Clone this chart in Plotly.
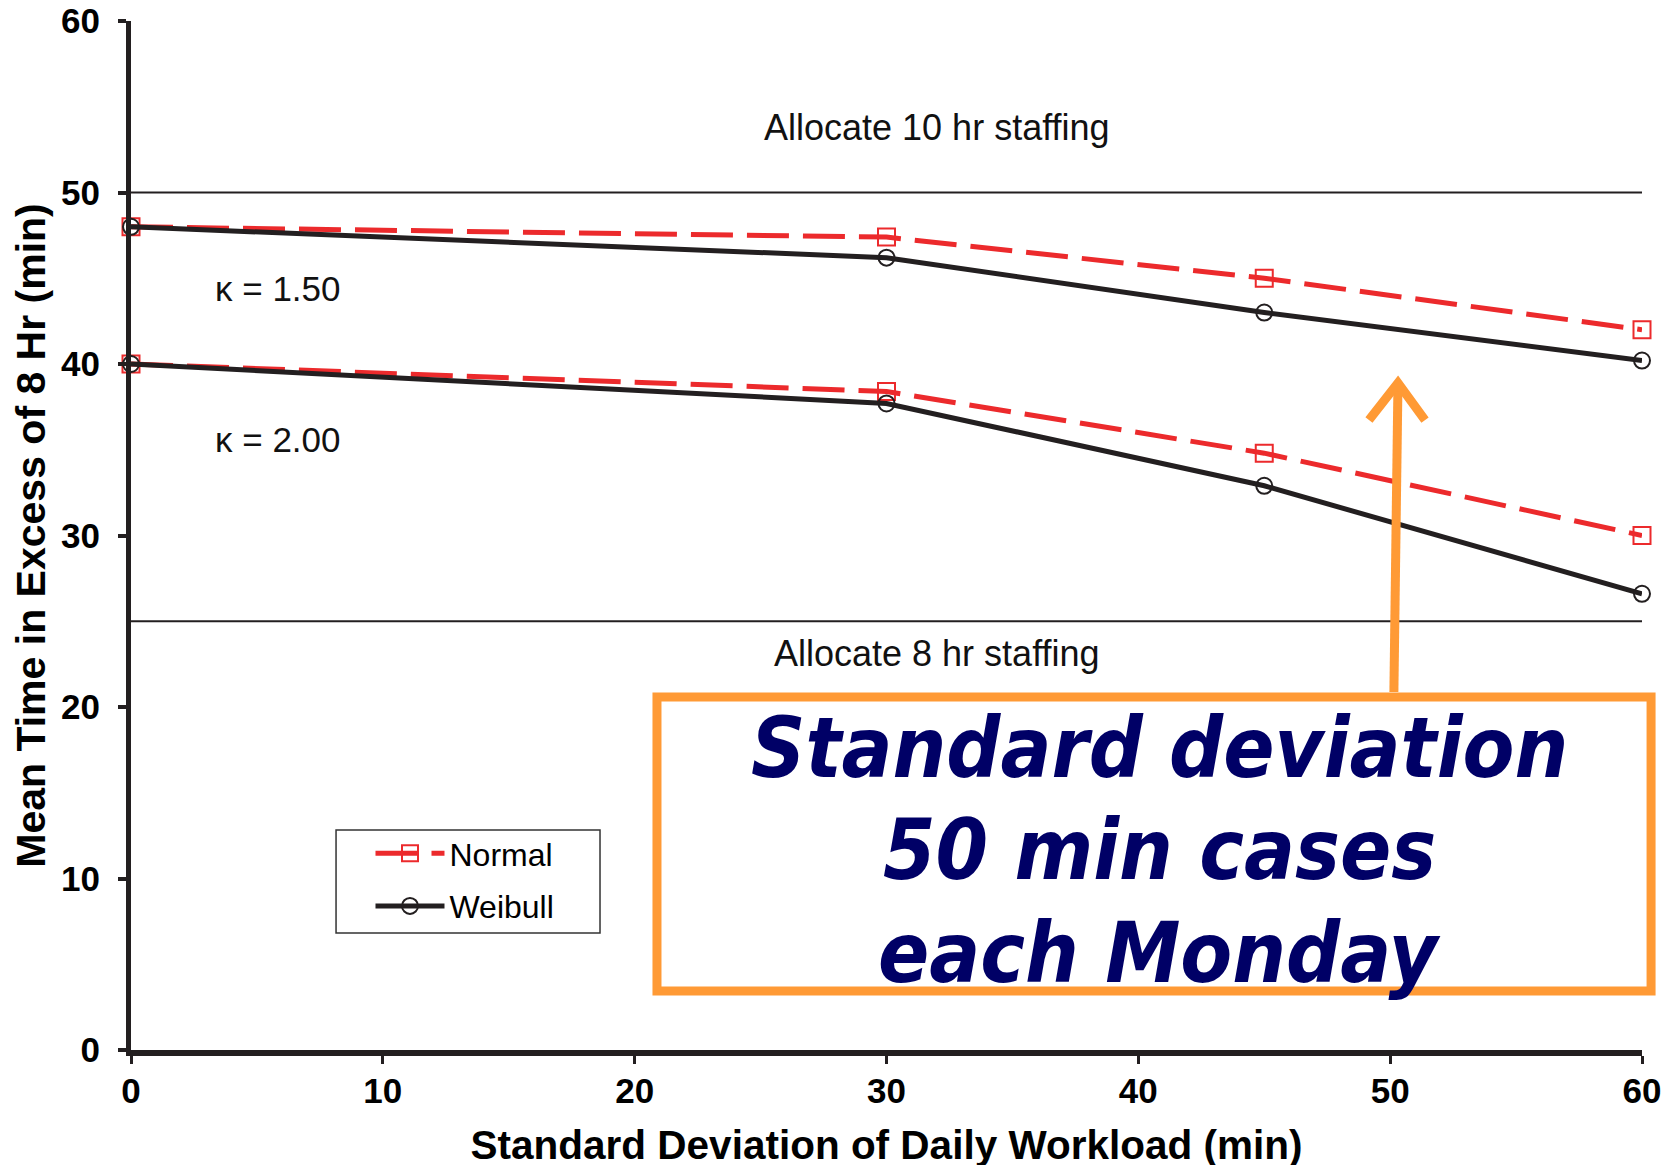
import plotly.graph_objects as go

# ---- data ----
sd_workload = [0, 30, 45, 60]
normal_k150 = [48.0, 47.4, 45.0, 42.0]
weibull_k150 = [48.0, 46.2, 43.0, 40.2]
normal_k200 = [40.0, 38.4, 34.8, 30.0]
weibull_k200 = [40.0, 37.7, 32.9, 26.6]
staff_x = [0, 60]
staff_10hr = [50, 50]
staff_8hr = [25, 25]
x_ticks = [0, 10, 20, 30, 40, 50, 60]
y_ticks = [0, 10, 20, 30, 40, 50, 60]

RED = "#EC2A2C"
BLACK = "#231F20"
ORANGE = "#FF9A35"
NAVY = "#000066"
BASE_FONT = "Liberation Sans, Arial, sans-serif"

fig = go.Figure()

for yy in (staff_10hr, staff_8hr):
    fig.add_trace(go.Scatter(x=staff_x, y=yy, mode="lines",
                             line=dict(color=BLACK, width=2),
                             showlegend=False, hoverinfo="skip", cliponaxis=False))

def add_pair(nvals, wvals, show):
    fig.add_trace(go.Scatter(
        x=sd_workload, y=nvals, mode="lines+markers", name="Normal",
        legendgroup="normal", showlegend=show, cliponaxis=False,
        line=dict(color=RED, width=5, dash="42px,14px"),
        marker=dict(symbol="square-open", size=17, color=RED, line=dict(width=2, color=RED))))
    fig.add_trace(go.Scatter(
        x=sd_workload, y=wvals, mode="lines+markers", name="Weibull",
        legendgroup="weibull", showlegend=show, cliponaxis=False,
        line=dict(color=BLACK, width=5),
        marker=dict(symbol="circle-open", size=16, color=BLACK, line=dict(width=2, color=BLACK))))

add_pair(normal_k150, weibull_k150, True)
add_pair(normal_k200, weibull_k200, False)

label_font = dict(family=BASE_FONT, size=36, color="#111111")
kappa_font = dict(family=BASE_FONT, size=35, color="#111111")
annotations = [
    dict(x=32.0, y=53.8, xref="x", yref="y", text="Allocate 10 hr staffing", showarrow=False, font=label_font),
    dict(x=32.0, y=23.1, xref="x", yref="y", text="Allocate 8 hr staffing", showarrow=False, font=label_font),
    dict(x=5.85, y=44.4, xref="x", yref="y", text="κ = 1.50", showarrow=False, font=kappa_font),
    dict(x=5.85, y=35.6, xref="x", yref="y", text="κ = 2.00", showarrow=False, font=kappa_font),
]
box_font = dict(family="DejaVu Sans Condensed, DejaVu Sans, sans-serif", size=84,
                color=NAVY, weight="bold", style="italic")
for txt, yp in (("Standard deviation", 0.2935), ("50 min cases", 0.1944), ("each Monday", 0.0943)):
    annotations.append(dict(x=0.681, y=yp, xref="paper", yref="paper", text=txt,
                            showarrow=False, xanchor="center", yanchor="middle", font=box_font))

shapes = [
    # legend frame
    dict(type="rect", xref="paper", yref="paper", x0=0.1357, x1=0.3104, y0=0.1137, y1=0.2138,
         line=dict(color="#333333", width=1.5), fillcolor="white", layer="below"),
    # callout box
    dict(type="rect", xref="paper", yref="paper", x0=0.3481, x1=1.006, y0=0.0573, y1=0.343,
         line=dict(color=ORANGE, width=9), fillcolor="white", layer="above"),
    # arrow shaft
    dict(type="line", xref="paper", yref="paper", x0=0.8358, y0=0.3479, x1=0.8385, y1=0.6482,
         line=dict(color=ORANGE, width=9), layer="above"),
    # arrow head
    dict(type="path", xref="paper", yref="paper",
         path="M0.8193,0.6122 L0.8385,0.6482 L0.8564,0.6122",
         line=dict(color=ORANGE, width=9), layer="above"),
]

fig.update_layout(
    width=1677, height=1165,
    margin=dict(l=123, r=43, t=13, b=123, autoexpand=False),
    paper_bgcolor="white", plot_bgcolor="white",
    font=dict(family=BASE_FONT, color="black"),
    showlegend=True,
    legend=dict(x=0.1585, y=0.2177, xanchor="left", yanchor="top",
                borderwidth=0, bgcolor="rgba(0,0,0,0)",
                font=dict(family=BASE_FONT, size=32, color="black"),
                itemwidth=69, tracegroupgap=8),
    annotations=annotations,
    shapes=shapes,
    xaxis=dict(range=[0, 60], tickvals=x_ticks, showgrid=False, zeroline=False,
               showline=True, linecolor=BLACK, linewidth=6,
               ticks="outside", ticklen=8, tickwidth=3, tickcolor=BLACK,
               tickfont=dict(family=BASE_FONT, size=35, color="black", weight="bold"),
               ticklabelstandoff=-3, ticklabeloverflow="allow",
               title=dict(text="Standard Deviation of Daily Workload (min)",
                          font=dict(family=BASE_FONT, size=40.5, color="black", weight="bold"),
                          standoff=24)),
    yaxis=dict(range=[0, 60], tickvals=y_ticks, showgrid=False, zeroline=False,
               showline=True, linecolor=BLACK, linewidth=5,
               ticks="outside", ticklen=8, tickwidth=4, tickcolor=BLACK,
               tickfont=dict(family=BASE_FONT, size=35, color="black", weight="bold"),
               ticklabelstandoff=11, ticklabeloverflow="allow",
               title=dict(text="Mean Time in Excess of 8 Hr (min)",
                          font=dict(family=BASE_FONT, size=41, color="black", weight="bold"),
                          standoff=14)),
)

fig.write_html("out.html")
